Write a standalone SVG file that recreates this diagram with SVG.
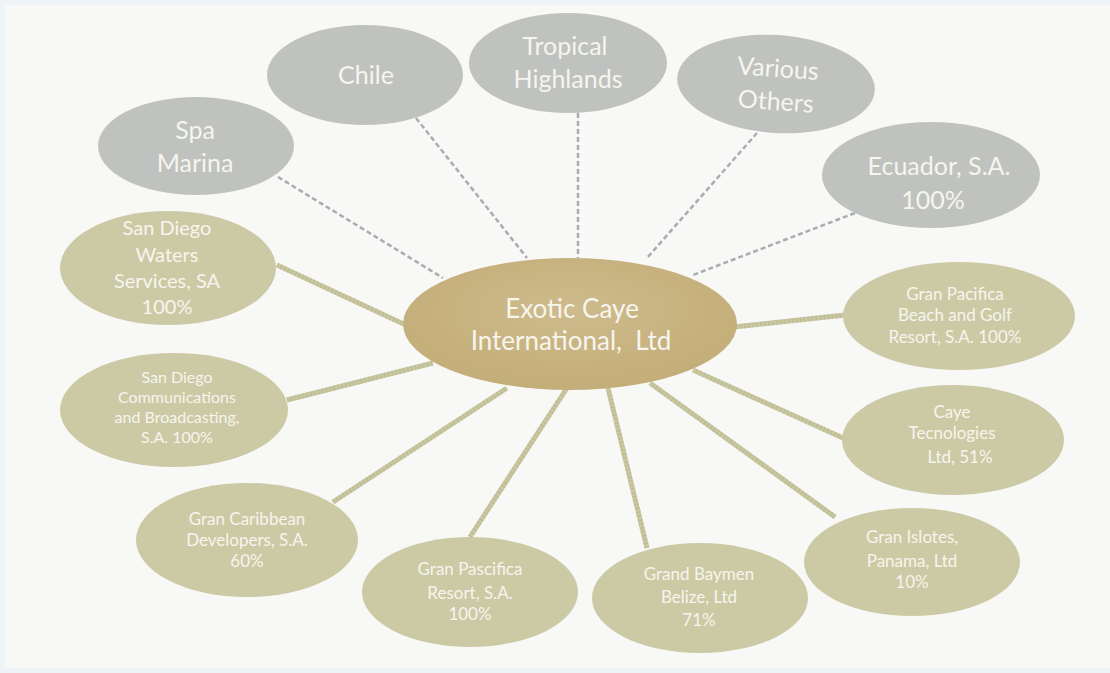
<svg xmlns="http://www.w3.org/2000/svg" width="1110" height="673" viewBox="0 0 1110 673">
<style>
.gray{fill:#bfc2bf}
.olive{fill:#cccaa5}
.t{font-family:Lato,"Open Sans",sans-serif;fill:#f6f5ee;text-anchor:middle}
.tg{font-size:25px}
.tc{font-size:26px}
.to{font-size:17px}
.dash{stroke:#a9adb0;stroke-width:2.5;stroke-dasharray:5 3;fill:none}
.rope{stroke:#c8c7a0;stroke-width:5;fill:none}
.ropet{stroke:#b3b18a;stroke-width:5;stroke-dasharray:1.5 2.5;fill:none;opacity:.45}
</style>
<defs>
<radialGradient id="cg" cx="50%" cy="40%" r="60%">
<stop offset="0" stop-color="#cebb8c"/>
<stop offset="1" stop-color="#c3ad78"/>
</radialGradient>
</defs>
<rect x="0" y="0" width="1110" height="673" fill="#eef3f6"/>
<rect x="5" y="5" width="1105" height="663" fill="#f8f8f6"/>
<g id="connectors">
<line class="dash" x1="278" y1="177" x2="443" y2="278"/>
<line class="dash" x1="416" y1="118" x2="527" y2="258"/>
<line class="dash" x1="578" y1="113" x2="578" y2="258"/>
<line class="dash" x1="757" y1="133" x2="647" y2="258"/>
<line class="dash" x1="855" y1="213" x2="693" y2="275"/>
<g>
<line class="rope" x1="277" y1="265" x2="410" y2="327"/>
<line class="rope" x1="287" y1="400" x2="433" y2="363"/>
<line class="rope" x1="333" y1="502" x2="507" y2="388"/>
<line class="rope" x1="470" y1="537" x2="567" y2="388"/>
<line class="rope" x1="647" y1="548" x2="608" y2="388"/>
<line class="rope" x1="835" y1="517" x2="650" y2="383"/>
<line class="rope" x1="843" y1="438" x2="693" y2="370"/>
<line class="rope" x1="845" y1="315" x2="734" y2="327"/>
</g>
<g>
<line class="ropet" x1="277" y1="265" x2="410" y2="327"/>
<line class="ropet" x1="287" y1="400" x2="433" y2="363"/>
<line class="ropet" x1="333" y1="502" x2="507" y2="388"/>
<line class="ropet" x1="470" y1="537" x2="567" y2="388"/>
<line class="ropet" x1="647" y1="548" x2="608" y2="388"/>
<line class="ropet" x1="835" y1="517" x2="650" y2="383"/>
<line class="ropet" x1="843" y1="438" x2="693" y2="370"/>
<line class="ropet" x1="845" y1="315" x2="734" y2="327"/>
</g>
</g>
<g id="spa-marina">
<ellipse class="gray" cx="196" cy="146" rx="98" ry="49"/>
<text class="t tg" x="195" y="139">Spa</text>
<text class="t tg" x="195" y="172">Marina</text>
</g>
<g id="chile">
<ellipse class="gray" cx="365" cy="75" rx="98" ry="50"/>
<text class="t tg" x="366" y="84">Chile</text>
</g>
<g id="tropical-highlands">
<ellipse class="gray" cx="568" cy="63" rx="99" ry="50"/>
<text class="t tg" x="565" y="55">Tropical</text>
<text class="t tg" x="568" y="88">Highlands</text>
</g>
<g id="various-others" transform="rotate(4 776 84)">
<ellipse class="gray" cx="776" cy="84" rx="99" ry="49"/>
<text class="t tg" x="777" y="77">Various</text>
<text class="t tg" x="777" y="110">Others</text>
</g>
<g id="ecuador">
<ellipse class="gray" cx="931" cy="175" rx="109" ry="53"/>
<text class="t tg" x="939" y="175">Ecuador, S.A.</text>
<text class="t tg" x="933" y="209">100%</text>
</g>
<g id="exotic-caye">
<ellipse cx="570" cy="324" rx="167" ry="66" fill="url(#cg)"/>
<text class="t tc" x="572" y="318">Exotic Caye</text>
<text class="t tc" x="571" y="350" xml:space="preserve">International,  Ltd</text>
</g>
<g id="san-diego-waters">
<ellipse class="olive" cx="168" cy="268" rx="108" ry="57"/>
<text class="t" font-size="20" x="167" y="235">San Diego</text>
<text class="t" font-size="20" x="167" y="262">Waters</text>
<text class="t" font-size="20" x="167" y="288">Services, SA</text>
<text class="t" font-size="20" x="167" y="314">100%</text>
</g>
<g id="san-diego-comm">
<ellipse class="olive" cx="174" cy="410" rx="114" ry="57"/>
<text class="t" font-size="16" x="177" y="383">San Diego</text>
<text class="t" font-size="16" x="177" y="403">Communications</text>
<text class="t" font-size="16" x="177" y="423">and Broadcasting,</text>
<text class="t" font-size="16" x="177" y="443">S.A. 100%</text>
</g>
<g id="gran-caribbean">
<ellipse class="olive" cx="247" cy="540" rx="111" ry="57"/>
<text class="t to" x="247" y="525">Gran Caribbean</text>
<text class="t to" x="247" y="546">Developers, S.A.</text>
<text class="t to" x="247" y="567">60%</text>
</g>
<g id="gran-pascifica-resort">
<ellipse class="olive" cx="470" cy="592" rx="108" ry="55"/>
<text class="t to" x="470" y="575">Gran Pascifica</text>
<text class="t to" x="470" y="599">Resort, S.A.</text>
<text class="t to" x="470" y="620">100%</text>
</g>
<g id="grand-baymen">
<ellipse class="olive" cx="700" cy="598" rx="108" ry="55"/>
<text class="t to" x="699" y="580">Grand Baymen</text>
<text class="t to" x="699" y="603">Belize, Ltd</text>
<text class="t to" x="699" y="626">71%</text>
</g>
<g id="gran-islotes">
<ellipse class="olive" cx="912" cy="562" rx="108" ry="54"/>
<text class="t to" x="912" y="543">Gran Islotes,</text>
<text class="t to" x="912" y="567">Panama, Ltd</text>
<text class="t to" x="912" y="588">10%</text>
</g>
<g id="caye-tecnologies">
<ellipse class="olive" cx="953" cy="440" rx="111" ry="55"/>
<text class="t to" x="952" y="418">Caye</text>
<text class="t to" x="952" y="439">Tecnologies</text>
<text class="t to" x="960" y="463">Ltd, 51%</text>
</g>
<g id="gran-pacifica-beach">
<ellipse class="olive" cx="959" cy="316" rx="116" ry="54"/>
<text class="t to" x="955" y="300">Gran Pacifica</text>
<text class="t to" x="955" y="321">Beach and Golf</text>
<text class="t to" x="955" y="343">Resort, S.A. 100%</text>
</g>
</svg>
